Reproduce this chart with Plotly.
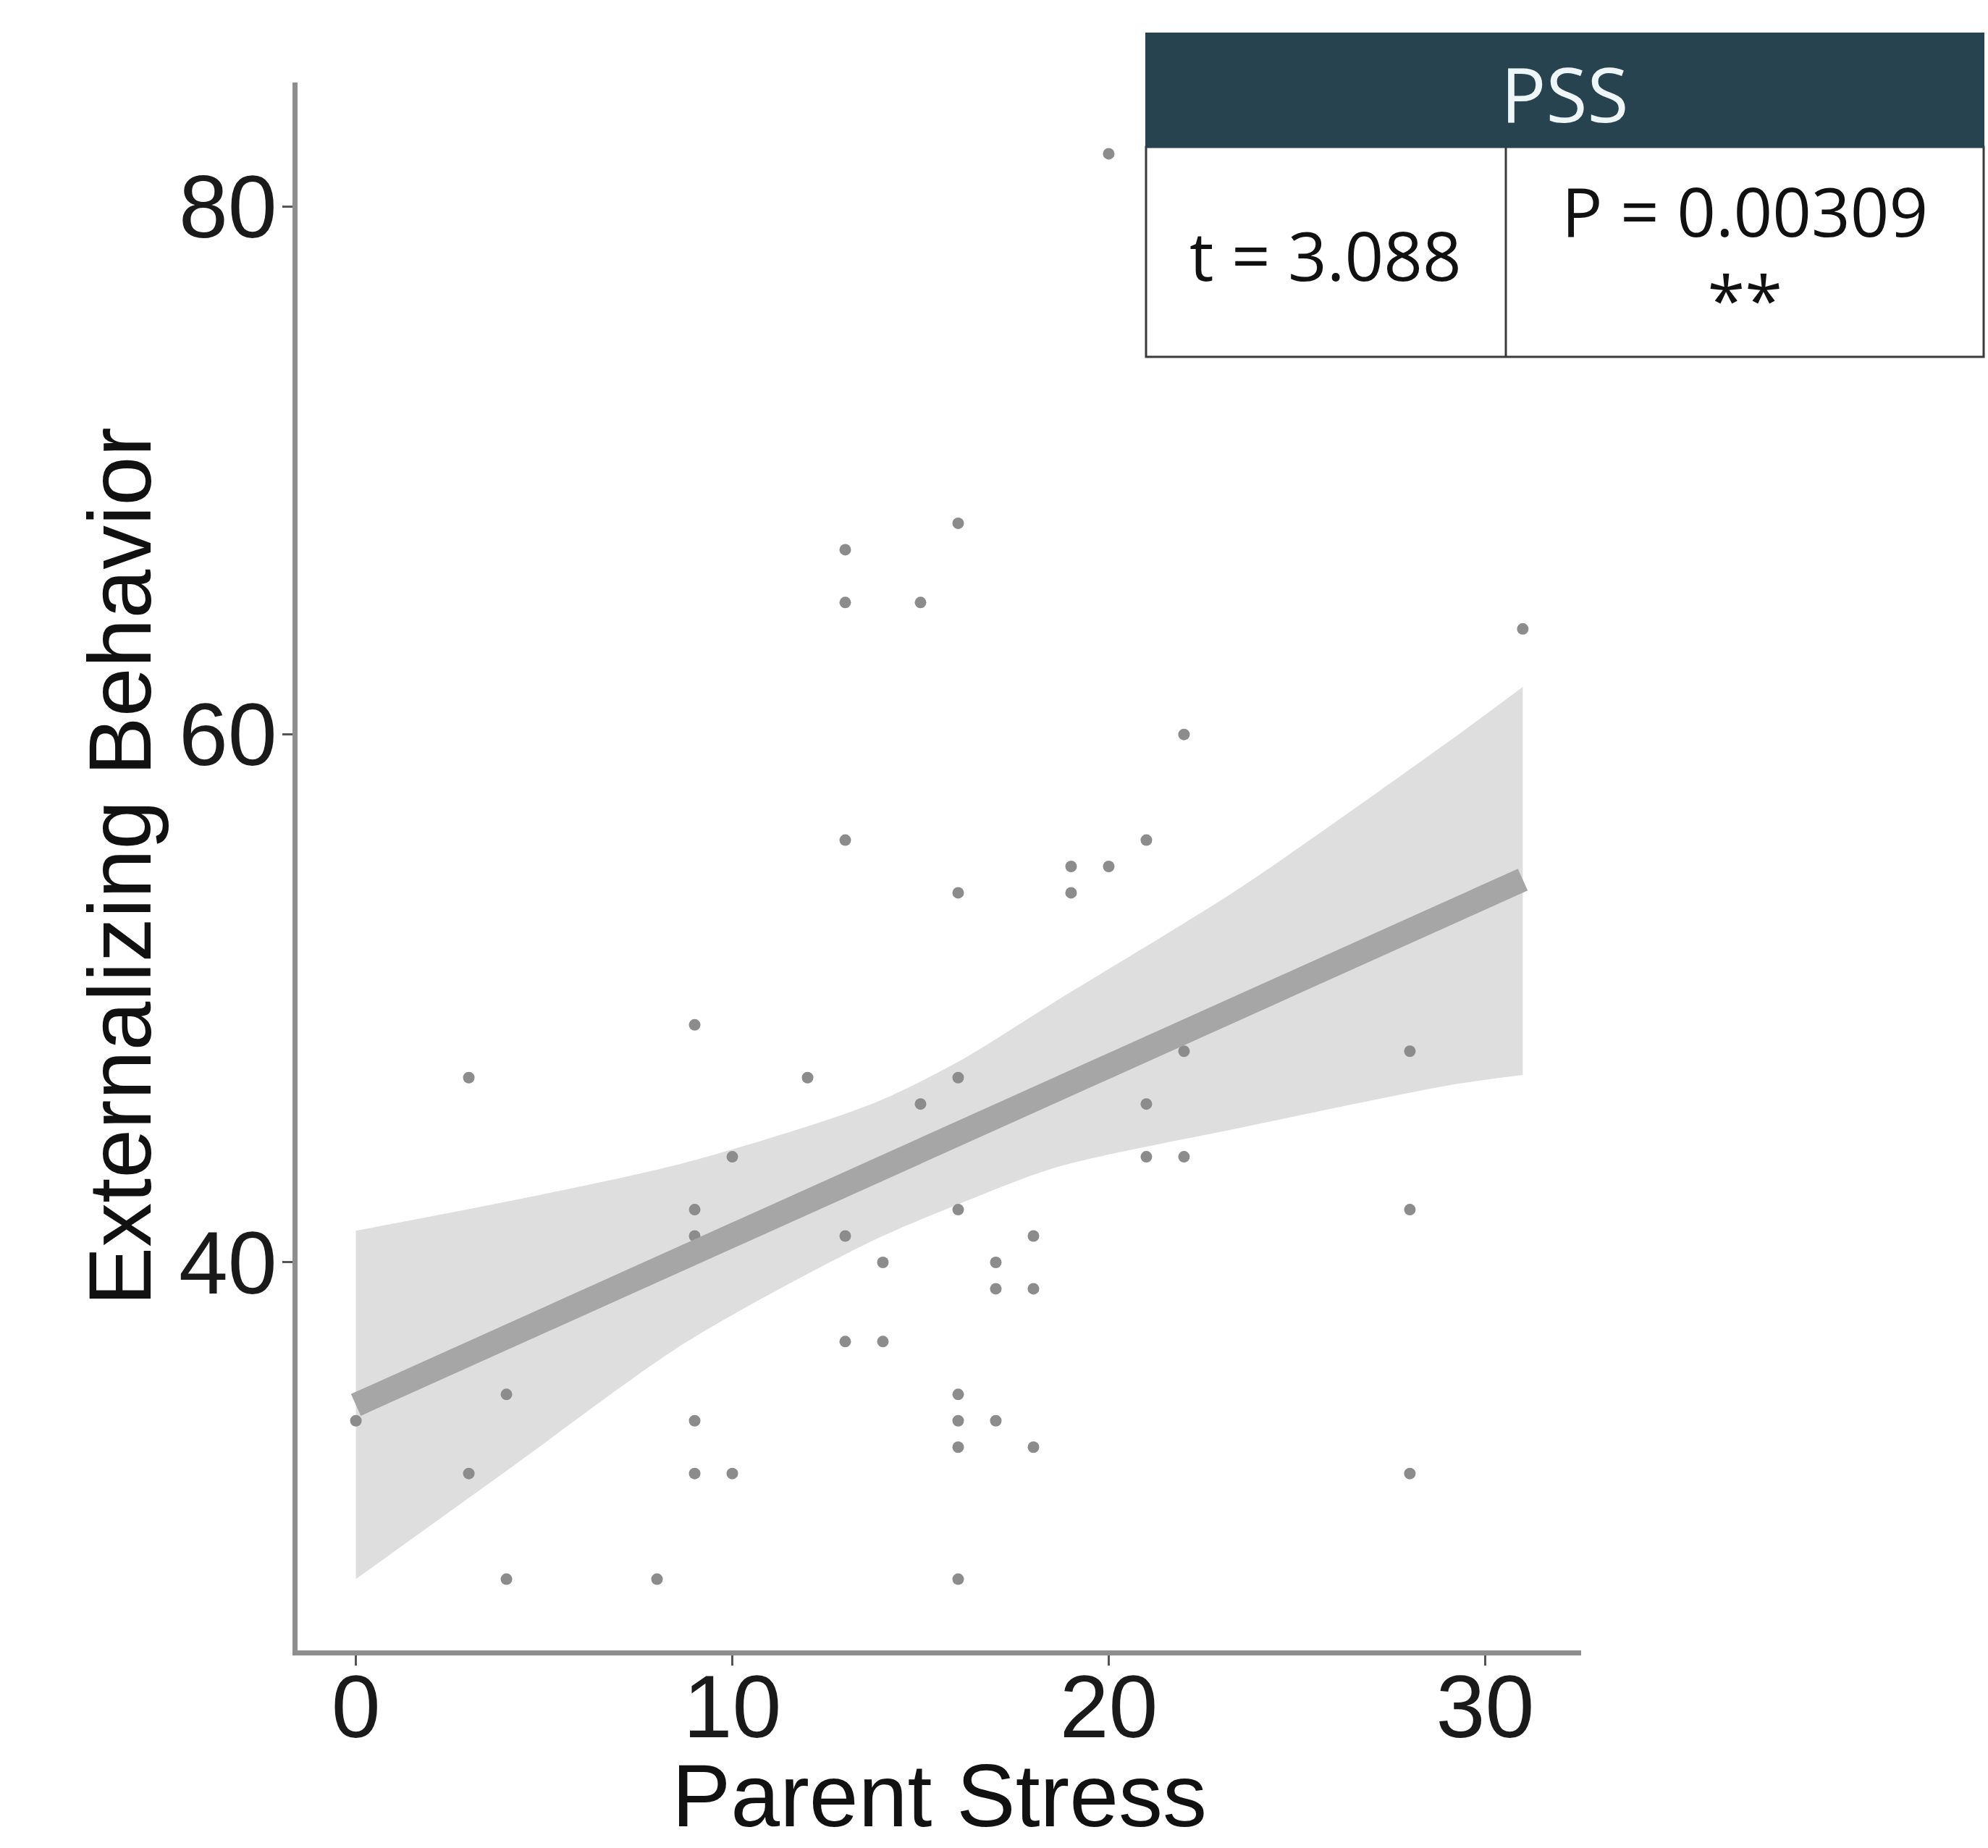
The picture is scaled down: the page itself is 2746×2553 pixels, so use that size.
import plotly.graph_objects as go

# ---- data ----
parent_stress = [20, 16, 13, 13, 15, 31, 22, 13, 21, 19, 20, 16, 19,
                 9, 3, 12, 16, 22, 28, 15, 21, 10, 21, 22, 9, 16, 28,
                 9, 13, 18, 14, 17, 17, 18, 13, 14, 4, 16, 0, 9, 16, 17,
                 16, 18, 3, 9, 10, 28, 4, 8, 16]
externalizing = [82, 68, 67, 65, 65, 64, 60, 56, 56, 55, 55, 54, 54,
                 49, 47, 47, 47, 48, 48, 46, 46, 44, 44, 44, 42, 42, 42,
                 41, 41, 41, 40, 40, 39, 39, 37, 37, 35, 35, 34, 34, 34, 34,
                 33, 33, 32, 32, 32, 32, 28, 28, 28]

# fitted regression line and its 95% confidence band
fit_x = [0, 31]
fit_y = [34.6, 54.5]
band_x = [0, 4, 8.8, 13.7, 16, 18.6, 23.5, 29, 31]
band_upper = [41.2, 42.3, 43.8, 46.0, 47.6, 49.9, 54.2, 59.7, 61.8]
band_lower = [28.0, 32.1, 37.0, 40.8, 42.2, 43.6, 45.1, 46.7, 47.1]

x_ticks = [0, 10, 20, 30]
y_ticks = [40, 60, 80]
table_header = "PSS"
t_text = "t = 3.088"
p_text = "P = 0.00309<br>**"

# ---- layout geometry (pixels) ----
W, H = 2746, 2553
L, R, T, B = 411, 2184, 114, 2280


def px(xp):
    return (xp - L) / (R - L)


def py(yp):
    return (B - yp) / (B - T)


fig = go.Figure()
fig.add_trace(go.Scatter(x=band_x, y=band_lower, mode="lines",
                         line=dict(width=0, shape="spline", smoothing=0.8,
                                   color="rgba(0,0,0,0)"),
                         hoverinfo="skip", showlegend=False))
fig.add_trace(go.Scatter(x=band_x, y=band_upper, mode="lines", fill="tonexty",
                         fillcolor="#dedede",
                         line=dict(width=0, shape="spline", smoothing=0.8,
                                   color="rgba(0,0,0,0)"),
                         hoverinfo="skip", showlegend=False))
fig.add_trace(go.Scatter(x=parent_stress, y=externalizing, mode="markers",
                         marker=dict(size=16, color="#8c8c8c"),
                         hoverinfo="skip", showlegend=False))
fig.add_trace(go.Scatter(x=fit_x, y=fit_y, mode="lines",
                         line=dict(color="#a6a6a6", width=33),
                         hoverinfo="skip", showlegend=False))

axis_common = dict(showgrid=False, zeroline=False, showline=True,
                   linecolor="#8e8e8e", linewidth=7, ticks="outside",
                   ticklen=14, tickwidth=3, tickcolor="#555555",
                   tickfont=dict(family="Liberation Sans", size=122, color="#1a1a1a"))

fig.update_xaxes(range=[-1.55, 32.55], tickvals=x_ticks, ticklabelstandoff=-47,
                 **axis_common)
fig.update_yaxes(range=[25.3, 84.7], tickvals=y_ticks, ticklabelstandoff=-17,
                 **axis_common)

annotations = [
    dict(text="Parent Stress", x=0.5, y=py(2481), xref="paper", yref="paper",
         showarrow=False, xanchor="center", yanchor="middle",
         font=dict(family="Liberation Sans", size=122, color="#111111")),
    dict(text="Externalizing Behavior", x=px(166), y=0.5, xref="paper", yref="paper",
         showarrow=False, xanchor="center", yanchor="middle", textangle=-90,
         font=dict(family="Liberation Sans", size=122, color="#111111")),
    dict(text=table_header, x=px(2161), y=py(128), xref="paper", yref="paper",
         showarrow=False, xanchor="center", yanchor="middle",
         font=dict(family="Open Sans", size=104, color="#eef6f8")),
    dict(text=t_text, x=px(1831), y=py(352), xref="paper", yref="paper",
         showarrow=False, xanchor="center", yanchor="middle",
         font=dict(family="Open Sans", size=94, color="#111111")),
    dict(text=p_text, x=px(2410), y=py(352), xref="paper", yref="paper",
         showarrow=False, xanchor="center", yanchor="middle",
         font=dict(family="Open Sans", size=94, color="#111111")),
]

shapes = [
    dict(type="rect", xref="paper", yref="paper", x0=px(1583), x1=px(2740),
         y0=py(493), y1=py(203), fillcolor="white",
         line=dict(color="#3a3a3a", width=3), layer="above"),
    dict(type="rect", xref="paper", yref="paper", x0=px(1583), x1=px(2740),
         y0=py(203), y1=py(46), fillcolor="#27434f",
         line=dict(color="#27434f", width=2), layer="above"),
    dict(type="line", xref="paper", yref="paper", x0=px(2080), x1=px(2080),
         y0=py(493), y1=py(203), line=dict(color="#3a3a3a", width=3), layer="above"),
]

fig.update_layout(width=W, height=H, autosize=False,
                  margin=dict(l=L, r=W - R, t=T, b=H - B, pad=0),
                  paper_bgcolor="white", plot_bgcolor="white",
                  annotations=annotations, shapes=shapes, showlegend=False)

fig.write_html("out.html")
